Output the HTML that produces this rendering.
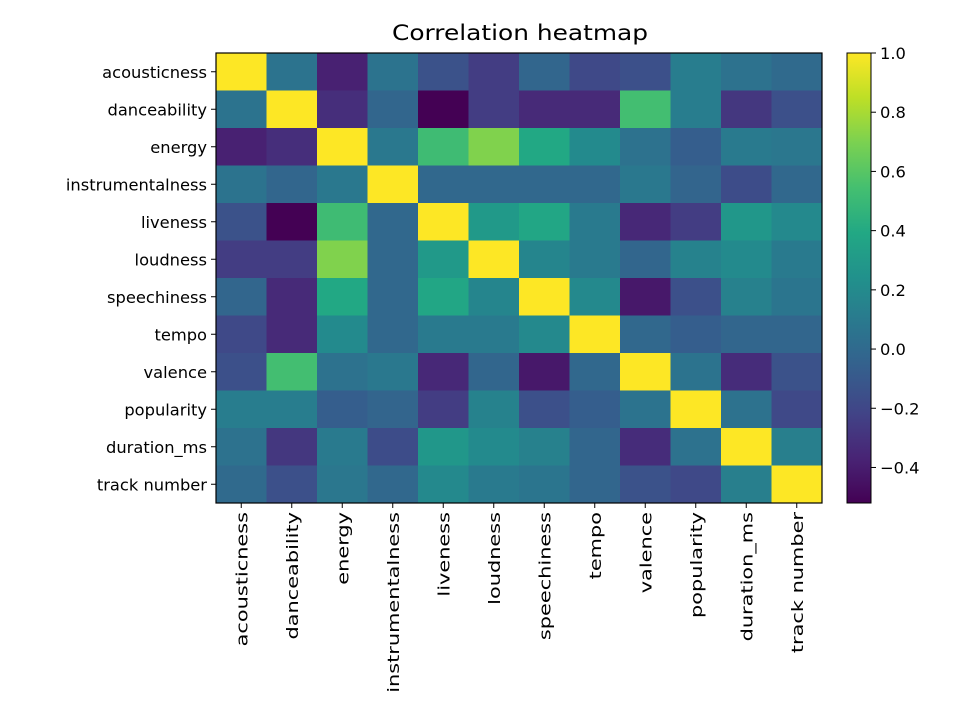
<!DOCTYPE html>
<html><head><meta charset="utf-8"><style>
body{margin:0;background:#fff;}
svg{display:block;font-family:"DejaVu Sans","Liberation Sans",sans-serif;}
</style></head><body>
<svg id="chart" width="960" height="720" xmlns="http://www.w3.org/2000/svg">
<text x="520" y="40" font-size="21" text-anchor="middle" textLength="256" lengthAdjust="spacingAndGlyphs">Correlation heatmap</text>
<g id="cells"></g>
<rect x="216" y="53" width="606" height="450" fill="none" stroke="#000" stroke-width="1.2"/>
<g id="ylabels"></g>
<g id="xlabels"></g>
<defs><linearGradient id="cbgrad" x1="0" y1="1" x2="0" y2="0"></linearGradient></defs>
<rect x="847" y="53" width="24" height="450" fill="url(#cbgrad)" stroke="#000" stroke-width="1"/>
<g id="cbticks"></g>
</svg>
<script>
const labels = ["acousticness","danceability","energy","instrumentalness","liveness","loudness","speechiness","tempo","valence","popularity","duration_ms","track number"];
const row0 = [1,0.06,-0.38,0.06,-0.14,-0.25,-0.02,-0.19,-0.15,0.12,0.05,0.0];
const row1 = [0.06,1,-0.32,-0.02,-0.52,-0.25,-0.34,-0.34,0.54,0.12,-0.28,-0.15];
const row2 = [-0.38,-0.32,1,0.09,0.52,0.71,0.39,0.2,0.05,-0.07,0.1,0.08];
const row3 = [0.06,-0.02,0.09,1,-0.01,-0.01,-0.01,-0.01,0.09,-0.03,-0.17,-0.01];
const row4 = [-0.14,-0.52,0.52,-0.01,1,0.29,0.38,0.1,-0.35,-0.25,0.28,0.19];
const row5 = [-0.25,-0.25,0.71,-0.01,0.29,1,0.17,0.1,-0.02,0.15,0.2,0.1];
const row6 = [-0.02,-0.34,0.39,-0.01,0.38,0.17,1,0.19,-0.42,-0.15,0.14,0.07];
const row7 = [-0.19,-0.34,0.2,-0.01,0.1,0.1,0.19,1,-0.01,-0.07,-0.02,-0.02];
const row8 = [-0.15,0.54,0.05,0.09,-0.35,-0.02,-0.42,-0.01,1,0.06,-0.33,-0.14];
const row9 = [0.12,0.12,-0.07,-0.03,-0.25,0.15,-0.15,-0.07,0.06,1,0.05,-0.19];
const row10 = [0.05,-0.28,0.1,-0.17,0.28,0.2,0.14,-0.02,-0.33,0.05,1,0.13];
const row11 = [0.0,-0.15,0.08,-0.01,0.19,0.1,0.07,-0.02,-0.14,-0.19,0.13,1];
const cbTicks = [-0.4,-0.2,0.0,0.2,0.4,0.6,0.8,1.0];
const vmin = -0.52, vmax = 1.0;

const rows=[row0,row1,row2,row3,row4,row5,row6,row7,row8,row9,row10,row11];
const NS="http://www.w3.org/2000/svg";
const X0=216,Y0=53,W=606,H=450,n=labels.length,cw=W/n,ch=H/n;
const xPos=i=>X0+i*cw, yPos=j=>Y0+j*ch;
const cbY=v=>53+450*(vmax-v)/(vmax-vmin);
const vir=[[68,1,84],[72,36,117],[65,68,135],[53,95,141],[42,120,142],[33,145,140],[34,168,132],[68,191,112],[122,209,81],[189,223,38],[253,231,37]];
function color(v){let t=(v-vmin)/(vmax-vmin);t=Math.max(0,Math.min(1,t));const p=t*10,i=Math.min(9,Math.floor(p)),f=p-i;const c=vir[i].map((a,k)=>Math.round(a+(vir[i+1][k]-a)*f));return `rgb(${c})`;}
function mk(tag,attrs,parent){const e=document.createElementNS(NS,tag);for(const k in attrs)e.setAttribute(k,attrs[k]);parent.appendChild(e);return e;}
const cells=document.getElementById('cells');
rows.forEach((r,j)=>r.forEach((v,i)=>{
 const e=mk('rect',{x:xPos(i),y:yPos(j),width:cw+0.5,height:ch+0.5,fill:color(v)},cells);
 
 
}));
const yl=document.getElementById('ylabels'),xl=document.getElementById('xlabels');
labels.forEach((l,k)=>{
 const cy=yPos(k)+ch/2;
 mk('line',{x1:X0-5,x2:X0,y1:cy,y2:cy,stroke:'#000'},yl);
 const t=mk('text',{x:X0-9,y:cy+6,'font-size':16.3,'text-anchor':'end'},yl);t.textContent=l;
 
 
 const cx=xPos(k)+cw/2;
 mk('line',{x1:cx,x2:cx,y1:Y0+H,y2:Y0+H+5,stroke:'#000'},xl);
 const t2=mk('text',{x:0,y:0,'font-size':16.3,'text-anchor':'end',transform:`translate(${cx+6},${Y0+H+9}) rotate(-90) scale(1.28,1)`},xl);t2.textContent=l;
 
 
});
const g=document.getElementById('cbgrad');
for(let s=0;s<=20;s++){const v=vmin+(vmax-vmin)*s/20;mk('stop',{offset:(s/20),'stop-color':color(v)},g);}
const cb=document.getElementById('cbticks');
cbTicks.forEach(v=>{
 const y=cbY(v);
 mk('line',{x1:871,x2:876,y1:y,y2:y,stroke:'#000'},cb);
 const t=mk('text',{x:880,y:y+6,'font-size':16.3},cb);
 t.textContent=(v<0?'\u2212':'')+Math.abs(v).toFixed(1);
 
 
});
</script>
</body></html>
